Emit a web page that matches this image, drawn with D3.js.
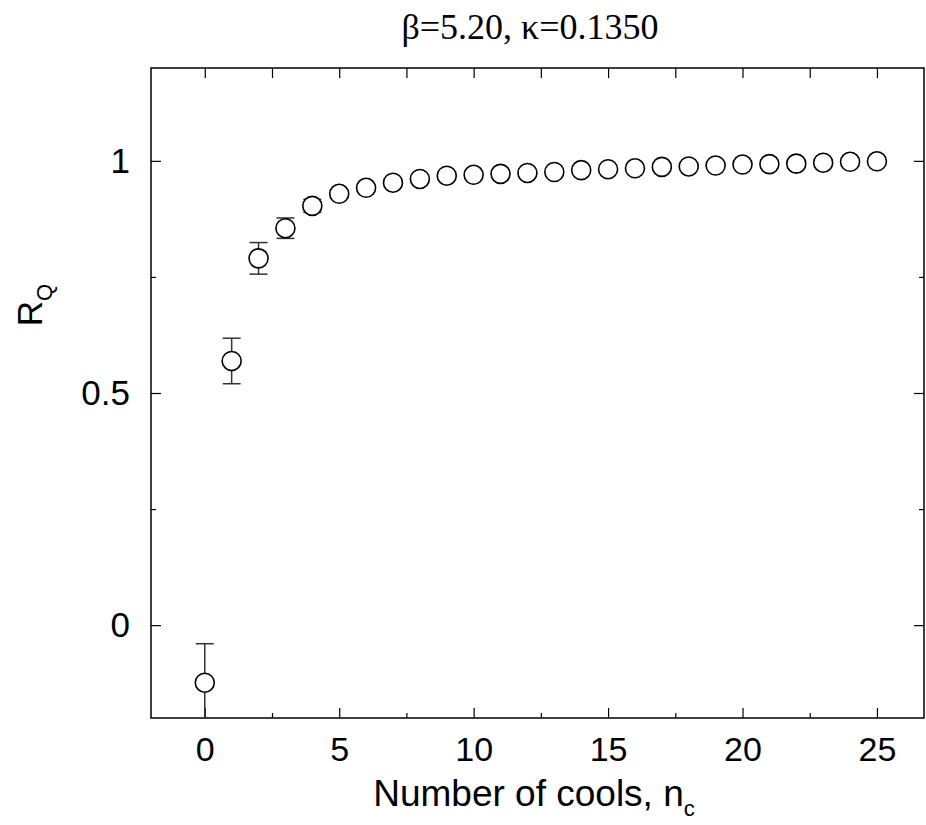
<!DOCTYPE html>
<html>
<head>
<meta charset="utf-8">
<script src="https://cdn.jsdelivr.net/npm/d3@7"></script>
<style>
  html, body { margin: 0; padding: 0; background: #fff; }
  svg { display: block; }
</style>
</head>
<body>
<svg id="chart" width="926" height="825"></svg>
<script>
// ---- data ----
const nCools = [0,1,2,3,4,5,6,7,8,9,10,11,12,13,14,15,16,17,18,19,20,21,22,23,24,25];
const rQ = [-0.124, 0.569, 0.790, 0.855, 0.903, 0.929, 0.942, 0.953, 0.961, 0.968,
            0.970, 0.972, 0.974, 0.976, 0.980, 0.982, 0.984, 0.987, 0.988, 0.990,
            0.992, 0.993, 0.994, 0.996, 0.998, 0.999];
const rQErr = [0.084, 0.049, 0.034, 0.022, 0.014, 0.009, 0.007, 0.006, 0.005, 0.005,
               0.004, 0.004, 0.003, 0.003, 0.003, 0.003, 0.002, 0.002, 0.002, 0.002,
               0.002, 0.002, 0.002, 0.002, 0.002, 0.002];
const xMajorTicks = [0, 5, 10, 15, 20, 25];
const xMinorTicks = [2.5, 7.5, 12.5, 17.5, 22.5];
const yMajorTicks = [0, 0.5, 1];
const yMinorTicks = [0.25, 0.75];
const titleText = "β=5.20, κ=0.1350";

(function () {
const svg = d3.select("#chart");
const pL = 151, pR = 924, pT = 68, pB = 718;
const x = d3.scaleLinear().domain([-2, 26.75]).range([pL, pR]);
const y = d3.scaleLinear().domain([-0.2, 1.2]).range([pB, pT]);

const sans = "Liberation Sans, Arial, Helvetica, sans-serif";
const serif = "Liberation Serif, Times New Roman, serif";

svg.append("defs").append("clipPath").attr("id", "clip")
  .append("rect").attr("x", pL).attr("y", pT).attr("width", pR - pL).attr("height", pB - pT);

const majLen = 10, minLen = 5;
const fmtY = d => d === 0 ? "0" : (d === 1 ? "1" : d3.format(".1f")(d));

const gxb = svg.append("g").attr("transform", `translate(0,${pB})`)
  .call(d3.axisBottom(x).tickValues(xMajorTicks).tickSize(-majLen).tickPadding(19).tickFormat(d3.format("d")));
gxb.select(".domain").remove();
gxb.selectAll("text").attr("font-family", sans).attr("font-size", 34).attr("fill", "#000");
svg.append("g").attr("transform", `translate(0,${pB})`)
  .call(d3.axisBottom(x).tickValues(xMinorTicks).tickSize(-minLen).tickFormat(""))
  .select(".domain").remove();

svg.append("g").attr("transform", `translate(0,${pT})`)
  .call(d3.axisTop(x).tickValues(xMajorTicks.concat(xMinorTicks)).tickSize(-majLen).tickFormat(""))
  .select(".domain").remove();

const gyl = svg.append("g").attr("transform", `translate(${pL},0)`)
  .call(d3.axisLeft(y).tickValues(yMajorTicks).tickSize(-majLen).tickPadding(21).tickFormat(fmtY));
gyl.select(".domain").remove();
gyl.selectAll("text").attr("font-family", sans).attr("font-size", 35).attr("fill", "#000");
svg.append("g").attr("transform", `translate(${pL},0)`)
  .call(d3.axisLeft(y).tickValues(yMinorTicks).tickSize(-minLen).tickFormat(""))
  .select(".domain").remove();

svg.append("g").attr("transform", `translate(${pR},0)`)
  .call(d3.axisRight(y).tickValues(yMajorTicks).tickSize(-majLen).tickFormat(""))
  .select(".domain").remove();
svg.append("g").attr("transform", `translate(${pR},0)`)
  .call(d3.axisRight(y).tickValues(yMinorTicks).tickSize(-minLen).tickFormat(""))
  .select(".domain").remove();

svg.selectAll(".tick line").attr("stroke", "#000").attr("stroke-width", 1.2);

svg.append("rect").attr("x", pL).attr("y", pT).attr("width", pR - pL).attr("height", pB - pT)
  .attr("fill", "none").attr("stroke", "#000").attr("stroke-width", 1.5);

const pts = nCools.map((n, i) => ({ n, v: rQ[i], e: rQErr[i] }));
const plot = svg.append("g").attr("clip-path", "url(#clip)");
const capW = 9;
const eb = plot.selectAll(".eb").data(pts).join("g").attr("class", "eb")
  .attr("stroke", "#333").attr("stroke-width", 1.5);
eb.append("line").attr("x1", d => x(d.n)).attr("x2", d => x(d.n))
  .attr("y1", d => y(d.v - d.e)).attr("y2", d => y(d.v + d.e));
eb.append("line").attr("x1", d => x(d.n) - capW).attr("x2", d => x(d.n) + capW)
  .attr("y1", d => y(d.v + d.e)).attr("y2", d => y(d.v + d.e));
eb.append("line").attr("x1", d => x(d.n) - capW).attr("x2", d => x(d.n) + capW)
  .attr("y1", d => y(d.v - d.e)).attr("y2", d => y(d.v - d.e));

plot.selectAll("circle").data(pts).join("circle")
  .attr("cx", d => x(d.n)).attr("cy", d => y(d.v)).attr("r", 9.5)
  .attr("fill", "#fff").attr("stroke", "#000").attr("stroke-width", 1.6);

svg.append("text").attr("x", 530).attr("y", 39).attr("text-anchor", "middle")
  .attr("font-family", serif).attr("font-size", 36).attr("fill", "#000").text(titleText);

const xl = svg.append("text").attr("x", 534).attr("y", 806).attr("text-anchor", "middle")
  .attr("font-family", sans).attr("font-size", 37).attr("fill", "#000");
xl.append("tspan").text("Number of cools, n");
xl.append("tspan").attr("font-size", 22).attr("dy", 10).text("c");

const yl = svg.append("text").attr("transform", `translate(42,305) rotate(-90)`).attr("text-anchor", "middle")
  .attr("font-family", sans).attr("font-size", 35).attr("fill", "#000");
yl.append("tspan").text("R");
yl.append("tspan").attr("font-size", 22).attr("dy", 10).text("Q");
})();
</script>
</body>
</html>
